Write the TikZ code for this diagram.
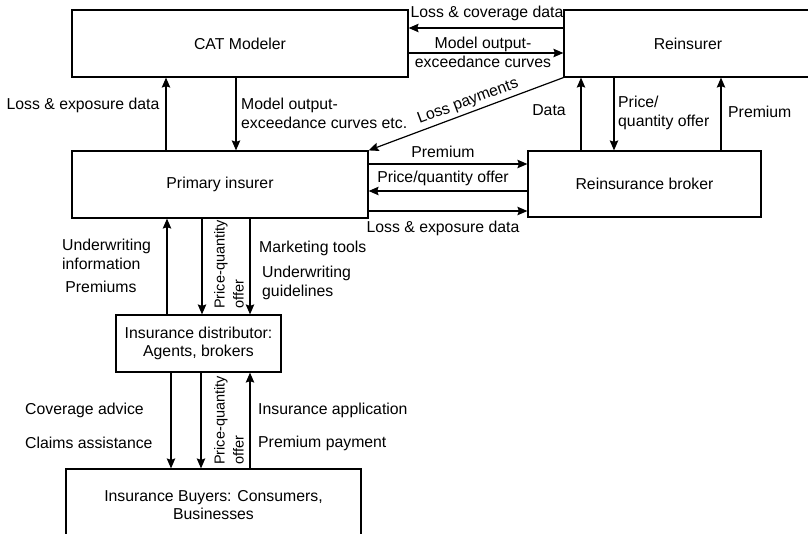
\documentclass[tikz,border=0pt]{standalone}
\usepackage{fontspec}
\setmainfont{Liberation Sans}
\usetikzlibrary{arrows.meta}
\newcommand\fsmain{\fontsize{15.8}{18.8}\selectfont}
\newcommand\fsrot{\fontsize{14.5}{19}\selectfont}
\begin{document}
\begin{tikzpicture}[x=1pt,y=-1pt,
  box/.style={draw, line width=1.2pt, inner sep=0pt, align=center, font=\fsmain},
  arr/.style={line width=1.2pt, -{Stealth[length=10pt,width=8.5pt,inset=1.5pt]}},
  rarr/.style={line width=1.2pt, {Stealth[length=10pt,width=8.5pt,inset=1.5pt]}-},
  lbl/.style={inner sep=0pt, font=\fsmain},
  rlbl/.style={inner sep=0pt, rotate=90, align=left, font=\fsrot, anchor=west}]
\clip (0,0) rectangle (808,533);

% boxes
\node[box, minimum width=336pt, minimum height=67pt] (cat) at (240,43.5) {CAT Modeler};
\node[box, minimum width=248pt, minimum height=67pt] (rei) at (688,43.5) {Reinsurer};
\node[box, minimum width=233pt, minimum height=66pt] (bro) at (644.5,184) {Reinsurance broker};
\node[box, minimum width=296pt, minimum height=67pt] (pri) at (220,184.5) {Primary insurer};
\node[box, minimum width=165pt, minimum height=57pt] (dis) at (198.5,343.5) {Insurance distributor:\\Agents, brokers};
\node[box, minimum width=295pt, minimum height=72pt] (buy) at (213.5,505) {Insurance Buyers: Consumers,\\Businesses};

% helper coordinates
\coordinate (h28) at (0,28);
\coordinate (h53) at (0,53);
\coordinate (h164) at (0,164);
\coordinate (h191) at (0,191);
\coordinate (h211) at (0,211);
\coordinate (v166) at (166,0);
\coordinate (v236) at (236,0);
\coordinate (v581) at (581,0);
\coordinate (v614) at (614,0);
\coordinate (v721) at (721,0);
\coordinate (v167) at (167,0);
\coordinate (v202) at (202,0);
\coordinate (v250) at (250,0);
\coordinate (v171) at (171,0);
\coordinate (v201) at (201,0);

% CAT <-> Reinsurer
\draw[arr] (rei.west |- h28) -- (cat.east |- h28);
\draw[arr] (cat.east |- h53) -- (rei.west |- h53);
\node[lbl] at (487,13) {Loss \& coverage data};
\node[lbl, align=center] at (483,52.5) {Model output-\\exceedance curves};

% Loss payments
\draw[rarr] (pri.north east) -- node[sloped, above, pos=0.53, inner sep=3pt, font=\fsmain]{Loss payments} (rei.south west);

% CAT <-> Primary
\draw[arr] (pri.north -| v166) -- (cat.south -| v166);
\draw[arr] (cat.south -| v236) -- (pri.north -| v236);
\node[lbl] at (83,105) {Loss \& exposure data};
\node[lbl, align=left, anchor=west] at (241,113) {Model output-\\exceedance curves etc.};

% Reinsurer <-> Broker
\draw[arr] (bro.north -| v581) -- (rei.south -| v581);
\draw[arr] (rei.south -| v614) -- (bro.north -| v614);
\draw[arr] (bro.north -| v721) -- (rei.south -| v721);
\node[lbl] at (549,110) {Data};
\node[lbl, align=left, anchor=west] at (618,113) {Price/\\quantity offer};
\node[lbl, anchor=west] at (728,112) {Premium};

% Primary <-> Broker
\draw[arr] (pri.east |- h164) -- (bro.west |- h164);
\draw[arr] (bro.west |- h191) -- (pri.east |- h191);
\draw[arr] (pri.east |- h211) -- (bro.west |- h211);
\node[lbl] at (443,152) {Premium};
\node[lbl] at (443,178) {Price/quantity offer};
\node[lbl] at (443,228) {Loss \& exposure data};

% Primary <-> Distributor
\draw[arr] (dis.north -| v167) -- (pri.south -| v167);
\draw[arr] (pri.south -| v202) -- (dis.north -| v202);
\draw[arr] (pri.south -| v250) -- (dis.north -| v250);
\node[lbl, align=left, anchor=west] at (62,254) {Underwriting\\information};
\node[lbl] at (101,287) {Premiums};
\node[rlbl] at (229,309) {Price-quantity\\offer};
\node[lbl, anchor=west] at (259,248) {Marketing tools};
\node[lbl, align=left, anchor=west] at (262,283) {Underwriting\\guidelines};

% Distributor <-> Buyers
\draw[arr] (dis.south -| v171) -- (buy.north -| v171);
\draw[arr] (dis.south -| v201) -- (buy.north -| v201);
\draw[arr] (buy.north -| v250) -- (dis.south -| v250);
\node[lbl, anchor=west] at (25,410) {Coverage advice};
\node[lbl, anchor=west] at (25,443) {Claims assistance};
\node[rlbl] at (229,465) {Price-quantity\\offer};
\node[lbl, anchor=west] at (258,410) {Insurance application};
\node[lbl, anchor=west] at (258,443) {Premium payment};
\end{tikzpicture}
\end{document}
